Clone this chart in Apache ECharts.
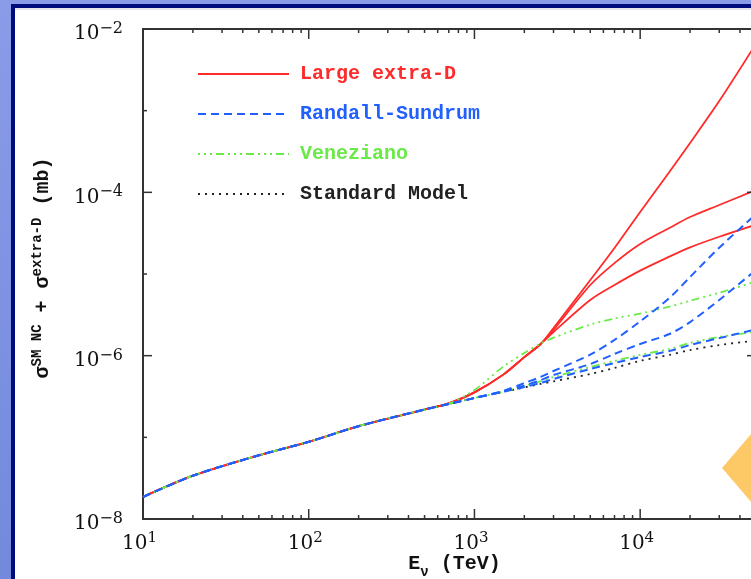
<!DOCTYPE html>
<html>
<head>
<meta charset="utf-8">
<script src="https://cdn.jsdelivr.net/npm/echarts@6/dist/echarts.min.js"></script>
<style>
  html, body { margin: 0; padding: 0; width: 751px; height: 579px; overflow: hidden; background: #ffffff; }
  .band { position: absolute; }
  #topLight  { left: 0; top: 0; width: 751px; height: 4px; background: #8a9ce8; }
  #leftLight { left: 0; top: 0; width: 11px; height: 579px; background: linear-gradient(#8a9ce8, #7489dc); }
  #topNavy   { left: 11px; top: 4px; width: 740px; height: 4px; background: #000c7c; }
  #leftNavy  { left: 11px; top: 4px; width: 4px; height: 575px; background: #000c7c; }
  #topShade  { left: 15px; top: 8px; width: 736px; height: 2px; background: #e6e6ea; }
  #chart { position: absolute; left: 0; top: 0; width: 751px; height: 579px; }
</style>
</head>
<body>
<div class="band" id="topLight"></div>
<div class="band" id="leftLight"></div>
<div class="band" id="topNavy"></div>
<div class="band" id="leftNavy"></div>
<div class="band" id="topShade"></div>
<div id="chart"></div>
<script>
// Neutrino energy grid (TeV)
const energy = [10, 20, 50, 100, 200, 500, 700, 1000, 1500, 2000, 2500, 3000, 5000, 7000, 1e4, 1.5e4, 2e4, 3e4, 5e4];

// Cross sections sigma^SM NC + sigma^extra-D (mb) at each energy
const standardModel  = [1.86e-8, 3.39e-8, 6.03e-8, 8.81e-8, 1.37e-7, 2.19e-7, 2.56e-7, 3.03e-7, 3.61e-7, 4.08e-7, 4.50e-7, 4.85e-7, 5.96e-7, 7.08e-7, 8.65e-7, 1.02e-6, 1.17e-6, 1.35e-6, 1.53e-6];

const largeExtraD_a  = [1.86e-8, 3.39e-8, 6.03e-8, 8.81e-8, 1.37e-7, 2.19e-7, 2.60e-7, 3.55e-7, 5.90e-7, 9.60e-7, 1.38e-6, 2.18e-6, 8.43e-6, 2.08e-5, 5.74e-5, 1.77e-4, 4.02e-4, 1.31e-3, 6.60e-3];
const largeExtraD_b  = [1.86e-8, 3.39e-8, 6.03e-8, 8.81e-8, 1.37e-7, 2.19e-7, 2.60e-7, 3.55e-7, 5.90e-7, 9.60e-7, 1.38e-6, 2.06e-6, 7.33e-6, 1.36e-5, 2.33e-5, 3.66e-5, 4.99e-5, 7.00e-5, 1.07e-4];
const largeExtraD_c  = [1.86e-8, 3.39e-8, 6.03e-8, 8.81e-8, 1.37e-7, 2.19e-7, 2.60e-7, 3.55e-7, 5.90e-7, 9.60e-7, 1.38e-6, 1.95e-6, 4.81e-6, 7.33e-6, 1.10e-5, 1.63e-5, 2.12e-5, 2.86e-5, 4.03e-5];

const randallSundrum_a = [1.86e-8, 3.39e-8, 6.03e-8, 8.81e-8, 1.37e-7, 2.19e-7, 2.56e-7, 3.03e-7, 3.72e-7, 4.62e-7, 5.48e-7, 6.49e-7, 1.03e-6, 1.56e-6, 2.63e-6, 5.08e-6, 9.18e-6, 2.10e-5, 5.40e-5];
const randallSundrum_b = [1.86e-8, 3.39e-8, 6.03e-8, 8.81e-8, 1.37e-7, 2.19e-7, 2.56e-7, 3.03e-7, 3.65e-7, 4.30e-7, 5.00e-7, 5.80e-7, 7.90e-7, 1.05e-6, 1.39e-6, 1.84e-6, 2.58e-6, 4.81e-6, 1.12e-5];
const randallSundrum_c = [1.86e-8, 3.39e-8, 6.03e-8, 8.81e-8, 1.37e-7, 2.19e-7, 2.56e-7, 3.03e-7, 3.62e-7, 4.12e-7, 4.62e-7, 5.18e-7, 6.87e-7, 8.13e-7, 9.64e-7, 1.14e-6, 1.35e-6, 1.64e-6, 2.10e-6];

const veneziano_a = [1.86e-8, 3.39e-8, 6.03e-8, 8.81e-8, 1.37e-7, 2.19e-7, 2.58e-7, 3.80e-7, 7.40e-7, 1.08e-6, 1.40e-6, 1.66e-6, 2.40e-6, 2.85e-6, 3.28e-6, 3.98e-6, 4.70e-6, 5.90e-6, 8.10e-6];
const veneziano_b = [1.86e-8, 3.39e-8, 6.03e-8, 8.81e-8, 1.37e-7, 2.19e-7, 2.56e-7, 3.03e-7, 3.63e-7, 4.27e-7, 4.84e-7, 5.48e-7, 7.26e-7, 8.61e-7, 1.02e-6, 1.21e-6, 1.43e-6, 1.70e-6, 1.95e-6];

// Axis ticks
const xMajorTicks = [10, 100, 1000, 10000];
const xMinorTicks = [20, 30, 40, 50, 60, 70, 80, 90,
                     200, 300, 400, 500, 600, 700, 800, 900,
                     2000, 3000, 4000, 5000, 6000, 7000, 8000, 9000,
                     20000, 30000, 40000];
const yMajorTicks = [1e-8, 1e-6, 1e-4, 1e-2];
const yMinorTicks = [1e-7, 1e-5, 1e-3];

const legendNames = ['Large extra-D', 'Randall-Sundrum', 'Veneziano', 'Standard Model'];

const RED = '#ff2b2b', BLUE = '#2160ff', GREEN = '#6aea48', BLACK = '#222222';
const mono = '"Liberation Mono", "DejaVu Sans Mono", monospace';
const serif = '"DejaVu Serif", "Liberation Serif", serif';

function curve(name, values, color, type, width, z) {
  return {
    name, type: 'line', z,
    data: energy.map((e, i) => [e, values[i]]),
    symbol: 'none', showSymbol: false,
    smooth: 0.3,
    lineStyle: { color, width, type, cap: 'butt' },
    itemStyle: { color },
    silent: true, clip: true,
    emphasis: { disabled: true }
  };
}

function isTick(v, list) {
  return list.some(t => Math.abs(Math.log10(v) - Math.log10(t)) < 1e-6);
}

function tickSeries(values, axis, len) {
  return {
    type: 'custom', silent: true, z: 6, clip: false,
    data: values.map(v => axis === 'x' ? [v, 1e-8] : [10, v]),
    renderItem(params, api) {
      const cs = params.coordSys;
      const p = api.coord([api.value(0), api.value(1)]);
      const st = { stroke: '#333', lineWidth: 1.5 };
      if (axis === 'x') {
        const yb = cs.y + cs.height, yt = cs.y;
        return { type: 'group', children: [
          { type: 'line', shape: { x1: p[0], y1: yb, x2: p[0], y2: yb - len }, style: st },
          { type: 'line', shape: { x1: p[0], y1: yt, x2: p[0], y2: yt + len }, style: st }
        ]};
      }
      const xl = cs.x, xr = cs.x + cs.width;
      return { type: 'group', children: [
        { type: 'line', shape: { x1: xl, y1: p[1], x2: xl + len, y2: p[1] }, style: st },
        { type: 'line', shape: { x1: xr, y1: p[1], x2: xr - len, y2: p[1] }, style: st }
      ]};
    }
  };
}

const chart = echarts.init(document.getElementById('chart'), null, { renderer: 'canvas' });

chart.setOption({
  animation: false,
  backgroundColor: 'transparent',
  grid: {
    left: 143, top: 29, right: -5, bottom: 60,
    containLabel: false, outerBoundsMode: 'none',
    show: true, borderColor: '#333', borderWidth: 2, backgroundColor: 'transparent'
  },
  legend: {
    orient: 'vertical', left: 192, top: 59,
    itemWidth: 91, itemHeight: 20, itemGap: 20,
    selectedMode: false,
    itemStyle: { color: 'rgba(0,0,0,0)', borderWidth: 0, opacity: 0 },
    textStyle: { fontFamily: mono, fontSize: 20, fontWeight: 'bold', padding: [0, 0, 0, 6] },
    data: [
      { name: legendNames[0], textStyle: { color: RED } },
      { name: legendNames[1], textStyle: { color: BLUE } },
      { name: legendNames[2], textStyle: { color: GREEN } },
      { name: legendNames[3], textStyle: { color: BLACK } }
    ]
  },
  xAxis: {
    type: 'log', logBase: 10, min: 10, max: 5e4,
    axisLine: { show: false }, axisTick: { show: false }, splitLine: { show: false },
    axisLabel: {
      margin: 12, padding: [0, 7, 0, 0],
      formatter: v => isTick(v, xMajorTicks) ? '{b|10}{s|' + Math.round(Math.log10(v)) + '}' : '',
      rich: {
        b: { fontFamily: serif, fontSize: 20, color: '#111', verticalAlign: 'bottom' },
        s: { fontFamily: serif, fontSize: 15, color: '#111', verticalAlign: 'bottom', padding: [0, 0, 8, 0] }
      }
    },
    name: '{e|E}{sub|ν}{e| (TeV)}',
    nameLocation: 'middle', nameGap: 35, nameMoveOverlap: false,
    nameTextStyle: {
      padding: [0, 0, 0, 10],
      rich: {
        e: { fontFamily: mono, fontSize: 20, fontWeight: 'bold', color: '#111', verticalAlign: 'bottom', padding: [0, 0, 5, 0] },
        sub: { fontFamily: mono, fontSize: 14, fontWeight: 'bold', color: '#111', verticalAlign: 'bottom' }
      }
    }
  },
  yAxis: {
    type: 'log', logBase: 10, min: 1e-8, max: 1e-2,
    axisLine: { show: false }, axisTick: { show: false }, splitLine: { show: false },
    axisLabel: {
      margin: 20, padding: [10, 0, 0, 0],
      formatter: v => isTick(v, yMajorTicks) ? '{b|10}{s|\u2212' + Math.abs(Math.round(Math.log10(v))) + '}' : '',
      rich: {
        b: { fontFamily: serif, fontSize: 20, lineHeight: 20, color: '#111', verticalAlign: 'bottom' },
        s: { fontFamily: serif, fontSize: 16, lineHeight: 16, color: '#111', verticalAlign: 'bottom', padding: [0, 0, 7, 0] }
      }
    },
    name: '{t|σ}{sup|SM NC}{t| + σ}{sup|extra-D}{t| (mb)}',
    nameLocation: 'middle', nameGap: 90, nameMoveOverlap: false,
    nameTextStyle: {
      padding: [0, 0, 0, 12],
      rich: {
        t: { fontFamily: mono, fontSize: 20, fontWeight: 'bold', color: '#111', verticalAlign: 'bottom' },
        sup: { fontFamily: mono, fontSize: 14, fontWeight: 'bold', color: '#111', verticalAlign: 'bottom', padding: [0, 0, 9, 0] }
      }
    }
  },
  graphic: [{
    type: 'polygon', z: 0, silent: true,
    shape: { points: [[722, 468], [770, 412], [818, 468], [770, 524]] },
    style: { fill: '#fdc866' }
  }],
  series: [
    curve(legendNames[3], standardModel, BLACK, [2, 5], 1.8, 2),
    curve(legendNames[0], largeExtraD_a, RED, 'solid', 1.8, 3),
    curve(legendNames[0], largeExtraD_b, RED, 'solid', 1.8, 3),
    curve(legendNames[0], largeExtraD_c, RED, 'solid', 1.8, 3),
    curve(legendNames[2], veneziano_a, GREEN, [2, 4, 2, 4, 2, 4, 8, 4], 1.8, 4),
    curve(legendNames[2], veneziano_b, GREEN, [2, 4, 2, 4, 2, 4, 8, 4], 1.8, 4),
    curve(legendNames[1], randallSundrum_a, BLUE, [8, 5], 2, 5),
    curve(legendNames[1], randallSundrum_b, BLUE, [8, 5], 2, 5),
    curve(legendNames[1], randallSundrum_c, BLUE, [8, 5], 2, 5),
    tickSeries(xMajorTicks, 'x', 10),
    tickSeries(xMinorTicks, 'x', 4),
    tickSeries(yMajorTicks, 'y', 9),
    tickSeries(yMinorTicks, 'y', 4)
  ]
});
</script>
</body>
</html>
